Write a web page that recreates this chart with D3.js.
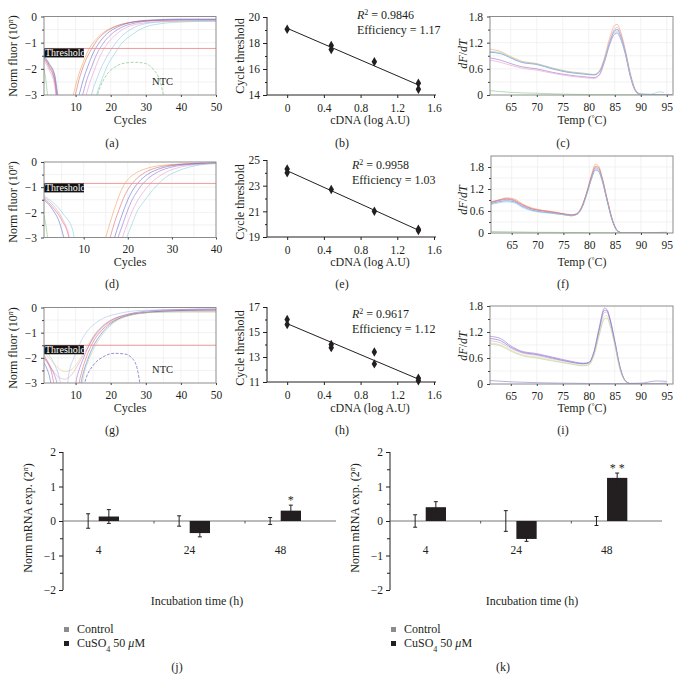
<!DOCTYPE html>
<html>
<head>
<meta charset="utf-8">
<script src="https://cdn.jsdelivr.net/npm/d3@7"></script>
<style>
  body { margin: 0; background: #fff; }
  text { font-family: "Liberation Serif", "Times New Roman", serif; fill: #231f20; }
</style>
</head>
<body>
<svg id="fig" width="683" height="678"></svg>
<script>
// ---------- data ----------
// amplification curves, [cycle, log10 norm fluor]; values below -3 are clipped off
const ampA = [
  { color: "#f2a35e", pts: [[1,-1.6],[2.5,-1.9],[4,-2.4],[5,-3.3],[8.5,-3.3],[9.3,-3.0],[10.5,-2.4],[12,-1.8],[14,-1.2],[16,-0.85],[18,-0.6],[20,-0.45],[23,-0.3],[27,-0.2],[33,-0.16],[40,-0.15],[50,-0.15]] },
  { color: "#e26a6a", pts: [[1,-1.55],[2.5,-1.85],[4,-2.3],[5.2,-3.3],[9.2,-3.3],[9.9,-3.0],[11,-2.4],[12.5,-1.8],[14.5,-1.25],[16.5,-0.85],[19,-0.55],[22,-0.35],[26,-0.22],[32,-0.15],[40,-0.12],[50,-0.12]] },
  { color: "#5f72d2", pts: [[1,-1.5],[2.5,-1.8],[4,-2.2],[5.5,-3.3],[10.3,-3.3],[11,-3.0],[12,-2.5],[13.5,-1.9],[15,-1.4],[17,-0.95],[19,-0.65],[22,-0.4],[26,-0.22],[32,-0.13],[40,-0.1],[50,-0.1]] },
  { color: "#9b6fca", pts: [[1,-1.6],[2.5,-1.95],[4,-2.45],[5,-3.3],[11.3,-3.3],[12,-3.0],[13,-2.5],[14.5,-1.95],[16,-1.45],[18,-1.0],[20,-0.7],[23,-0.42],[27,-0.25],[33,-0.15],[42,-0.12],[50,-0.12]] },
  { color: "#e79ccb", pts: [[1,-1.7],[2.5,-2.05],[4,-2.6],[4.8,-3.3],[12.3,-3.3],[13,-3.0],[14,-2.55],[15.5,-2.0],[17,-1.5],[19,-1.05],[21,-0.75],[24,-0.45],[28,-0.28],[34,-0.2],[42,-0.18],[50,-0.18]] },
  { color: "#9cc0ea", pts: [[14,-3.3],[14.5,-3.0],[16,-2.4],[17.5,-1.9],[19.5,-1.4],[21.5,-1.0],[24,-0.65],[27,-0.4],[31,-0.25],[38,-0.18],[50,-0.15]] },
  { color: "#86d2da", pts: [[15.5,-3.3],[16,-3.0],[17.5,-2.4],[19,-1.9],[21,-1.45],[23,-1.05],[26,-0.7],[29,-0.45],[34,-0.28],[42,-0.2],[50,-0.18]] },
  { color: "#82c682", pts: [[0.8,-1.9],[1.5,-2.4],[2.2,-3.3]] }
];
const ntcA = [[15.5,-3.3],[17,-2.7],[19,-2.2],[21,-1.95],[24,-1.78],[27,-1.75],[30,-1.8],[32,-2.0],[34,-2.45],[35.5,-3.3]];

const ampD = [
  { color: "#f2a35e", pts: [[15,-3.0],[16,-2.4],[17,-1.85],[18,-1.35],[19,-0.95],[20,-0.7],[22,-0.42],[24,-0.27],[27,-0.15],[30,-0.1],[35,-0.06],[40,-0.04]] },
  { color: "#e26a6a", pts: [[1,-1.45],[3,-1.8],[5,-2.3],[6.5,-2.9],[7,-3.3],[15.5,-3.3],[16,-3.0],[17,-2.4],[18,-1.9],[19,-1.45],[20,-1.1],[21,-0.85],[23,-0.52],[25,-0.32],[28,-0.17],[32,-0.09],[36,-0.05],[40,-0.03]] },
  { color: "#5f72d2", pts: [[1,-1.5],[3,-1.9],[4.5,-2.4],[5.5,-3.0],[6,-3.3],[16.5,-3.3],[17,-3.0],[18,-2.45],[19,-1.95],[20,-1.5],[21,-1.15],[22,-0.9],[24,-0.55],[26,-0.35],[29,-0.18],[33,-0.09],[40,-0.04]] },
  { color: "#9b6fca", pts: [[17.3,-3.3],[17.8,-3.0],[18.8,-2.5],[19.8,-2.0],[21,-1.5],[22,-1.2],[23,-0.95],[25,-0.6],[27,-0.38],[30,-0.2],[34,-0.1],[40,-0.05]] },
  { color: "#e79ccb", pts: [[1,-1.4],[3,-1.7],[5,-2.2],[6.5,-2.8],[7.2,-3.3],[18.3,-3.3],[18.8,-3.0],[19.8,-2.5],[21,-1.95],[22,-1.6],[23.5,-1.2],[25,-0.88],[27,-0.58],[29,-0.38],[32,-0.2],[36,-0.1],[40,-0.06]] },
  { color: "#86d2da", pts: [[1,-1.35],[3,-1.6],[5.5,-2.1],[7.5,-2.7],[8.3,-3.3],[19.3,-3.3],[19.8,-3.0],[21,-2.45],[22,-2.0],[23.5,-1.6],[25,-1.25],[26.5,-0.95],[28.5,-0.62],[31,-0.38],[34,-0.2],[37,-0.1],[40,-0.06]] },
  { color: "#82c682", pts: [[0.8,-2.0],[1.5,-2.6],[2,-3.3]] }
];

const ampG = [
  { color: "#e6d48a", pts: [[1,-1.75],[3,-2.1],[5,-2.4],[7,-2.55],[9,-2.45],[11,-2.1],[13,-1.6],[15,-1.15],[17,-0.8],[20,-0.5],[24,-0.3],[30,-0.2],[40,-0.17],[50,-0.17]] },
  { color: "#e9a2c4", pts: [[1,-2.0],[3,-2.4],[5,-2.75],[7,-2.85],[9,-2.65],[11,-2.2],[13,-1.7],[15,-1.25],[17,-0.9],[20,-0.55],[24,-0.32],[30,-0.2],[40,-0.15],[50,-0.15]] },
  { color: "#a9c2ea", pts: [[1,-1.65],[3,-2.0],[5,-2.6],[6.5,-3.3],[7.5,-3.3],[8,-2.7],[9.5,-2.0],[11,-1.5],[13,-1.0],[15,-0.7],[18,-0.42],[22,-0.25],[28,-0.12],[40,-0.08],[50,-0.06]] },
  { color: "#9b6fca", pts: [[1,-1.9],[3,-2.4],[4.5,-2.9],[5.2,-3.3],[9.5,-3.3],[10.5,-2.7],[12,-2.1],[13.5,-1.6],[15,-1.2],[17,-0.85],[20,-0.52],[24,-0.3],[30,-0.15],[40,-0.08],[50,-0.06]] },
  { color: "#e26a6a", pts: [[1,-2.0],[3,-2.5],[4.5,-3.3],[10.5,-3.3],[11.3,-2.8],[12.5,-2.2],[14,-1.65],[15.5,-1.25],[17.5,-0.9],[20,-0.6],[24,-0.35],[30,-0.2],[40,-0.12],[50,-0.1]] },
  { color: "#5f72d2", pts: [[1,-2.2],[2.5,-2.7],[3.5,-3.3],[11,-3.3],[12,-2.7],[13.5,-2.05],[15,-1.55],[16.5,-1.2],[18.5,-0.85],[21,-0.55],[25,-0.32],[30,-0.2],[40,-0.12],[50,-0.1]] },
  { color: "#acd9a4", pts: [[11.5,-3.3],[12.5,-2.6],[14,-2.0],[15.5,-1.55],[17,-1.2],[19,-0.85],[22,-0.5],[26,-0.3],[32,-0.2],[40,-0.18],[50,-0.18]] }
];
const ntcG = [[12,-3.3],[13,-2.8],[15,-2.3],[18,-1.95],[21,-1.82],[24,-1.85],[26,-2.0],[27.5,-2.4],[28.6,-3.3]];

// standard curves, [log cDNA, Ct]
const stdB = [[0,19.05],[0.48,17.8],[0.48,17.5],[0.95,16.55],[1.43,14.9],[1.43,14.45]];
const stdE = [[0,24.3],[0,24.0],[0.48,22.7],[0.95,21.0],[1.43,19.6],[1.43,19.5]];
const stdH = [[0,16.0],[0,15.6],[0.48,14.0],[0.48,13.75],[0.95,13.4],[0.95,12.45],[1.43,11.3],[1.43,11.1]];

// melt curves, [temp, dF/dT]
const meltC = [
  { color: "#f2a35e", pts: [[61,1.05],[63,1.0],[65,0.88],[67,0.78],[70,0.72],[73,0.62],[76,0.54],[79,0.5],[81,0.47],[82,0.55],[83,0.85],[84,1.3],[85,1.6],[85.5,1.62],[86,1.5],[87,1.05],[88,0.5],[89,0.12],[90,0.02],[92,0],[96,0]] },
  { color: "#5f72d2", pts: [[61,0.98],[63,0.95],[65,0.85],[67,0.75],[70,0.7],[73,0.6],[76,0.52],[79,0.48],[81,0.46],[82,0.52],[83,0.8],[84,1.2],[85,1.48],[85.5,1.5],[86,1.4],[87,1.0],[88,0.45],[89,0.1],[90,0.02],[96,0]] },
  { color: "#9b6fca", pts: [[61,0.85],[63,0.8],[65,0.72],[67,0.65],[70,0.6],[73,0.52],[76,0.46],[79,0.42],[81,0.4],[82,0.46],[83,0.75],[84,1.15],[85,1.4],[85.5,1.42],[86,1.32],[87,0.95],[88,0.42],[89,0.08],[90,0],[96,0]] },
  { color: "#e79ccb", pts: [[61,0.8],[63,0.75],[65,0.68],[67,0.62],[70,0.57],[73,0.5],[76,0.44],[79,0.4],[81,0.38],[82,0.45],[83,0.78],[84,1.22],[85,1.52],[85.5,1.55],[86,1.45],[87,1.02],[88,0.46],[89,0.1],[90,0],[96,0]] },
  { color: "#86d2da", pts: [[61,1.0],[63,0.97],[65,0.86],[67,0.76],[70,0.71],[73,0.61],[76,0.53],[79,0.49],[81,0.47],[82,0.53],[83,0.8],[84,1.18],[85,1.44],[85.5,1.45],[86,1.36],[87,0.98],[88,0.44],[89,0.1],[90,0.02],[92,0.02],[93.5,0.07],[94.5,0.06]] },
  { color: "#82c682", pts: [[61,0.1],[65,0.06],[70,0.04],[75,0.02],[80,0.01],[96,0]] }
];
const meltF = [
  { color: "#f2a35e", pts: [[61,0.85],[62.5,0.9],[64,0.96],[65.5,0.93],[67,0.8],[69,0.68],[71,0.62],[73,0.58],[75,0.53],[76.5,0.5],[77.5,0.52],[78.5,0.7],[79.5,1.1],[80.5,1.62],[81.2,1.88],[81.8,1.83],[82.5,1.52],[83.5,0.9],[84.5,0.35],[85.5,0.06],[86.5,0],[95,0]] },
  { color: "#5f72d2", pts: [[61,0.8],[62.5,0.85],[64,0.88],[65.5,0.85],[67,0.73],[69,0.62],[71,0.57],[73,0.54],[75,0.5],[76.5,0.47],[77.5,0.5],[78.5,0.66],[79.5,1.05],[80.5,1.5],[81.2,1.72],[81.8,1.68],[82.5,1.42],[83.5,0.85],[84.5,0.32],[85.5,0.05],[86.5,0],[95,0]] },
  { color: "#9b6fca", pts: [[61,0.83],[62.5,0.88],[64,0.92],[65.5,0.88],[67,0.76],[69,0.65],[71,0.6],[73,0.56],[75,0.52],[76.5,0.49],[77.5,0.51],[78.5,0.68],[79.5,1.08],[80.5,1.55],[81.2,1.78],[81.8,1.75],[82.5,1.48],[83.5,0.88],[84.5,0.34],[85.5,0.05],[86.5,0],[95,0.02]] },
  { color: "#e26a6a", pts: [[61,0.84],[62.5,0.9],[64,0.94],[65.5,0.9],[67,0.78],[69,0.66],[71,0.61],[73,0.57],[75,0.52],[76.5,0.49],[77.5,0.52],[78.5,0.7],[79.5,1.1],[80.5,1.58],[81.2,1.82],[81.8,1.79],[82.5,1.5],[83.5,0.9],[84.5,0.35],[85.5,0.06],[86.5,0],[95,0]] },
  { color: "#86d2da", pts: [[61,0.78],[62.5,0.82],[64,0.85],[65.5,0.82],[67,0.7],[69,0.6],[71,0.56],[73,0.53],[75,0.5],[76.5,0.47],[77.5,0.5],[78.5,0.66],[79.5,1.04],[80.5,1.52],[81.2,1.75],[81.8,1.72],[82.5,1.45],[83.5,0.86],[84.5,0.33],[85.5,0.05],[86.5,0],[95,0]] },
  { color: "#82c682", pts: [[61,0.04],[70,0.02],[80,0.01],[95,0]] }
];
const meltI = [
  { color: "#9b6fca", pts: [[61,1.1],[63,1.05],[65,0.88],[67,0.76],[70,0.7],[73,0.62],[76,0.54],[79,0.48],[80,0.5],[81,0.75],[82,1.3],[83,1.75],[83.5,1.72],[84,1.55],[85,1.0],[86,0.4],[87,0.08],[88,0.01],[90,0],[95,0.02]] },
  { color: "#e6d48a", pts: [[61,0.95],[63,0.9],[65,0.78],[67,0.68],[70,0.62],[73,0.55],[76,0.48],[79,0.43],[80,0.45],[81,0.68],[82,1.15],[83,1.55],[83.5,1.58],[84,1.42],[85,0.92],[86,0.35],[87,0.07],[88,0.01],[95,0]] },
  { color: "#e79ccb", pts: [[61,1.0],[63,0.95],[65,0.82],[67,0.72],[70,0.66],[73,0.58],[76,0.51],[79,0.46],[80,0.48],[81,0.72],[82,1.22],[83,1.65],[83.5,1.66],[84,1.5],[85,0.96],[86,0.38],[87,0.08],[88,0.01],[95,0]] },
  { color: "#5f72d2", pts: [[61,1.05],[63,1.0],[65,0.85],[67,0.74],[70,0.68],[73,0.6],[76,0.52],[79,0.47],[80,0.49],[81,0.73],[82,1.26],[83,1.7],[83.5,1.69],[84,1.52],[85,0.98],[86,0.39],[87,0.08],[88,0.01],[95,0]] },
  { color: "#acd9a4", pts: [[61,0.92],[63,0.88],[65,0.76],[67,0.66],[70,0.6],[73,0.53],[76,0.47],[79,0.42],[80,0.44],[81,0.66],[82,1.12],[83,1.5],[83.5,1.52],[84,1.38],[85,0.9],[86,0.34],[87,0.07],[88,0.01],[95,0]] },
  { color: "#8f78c8", pts: [[61,0.08],[65,0.05],[75,0.02],[85,0.01],[90,0.02],[93,0.07],[95,0.06]] }
];

// relative expression bars
const groups = ["4", "24", "48"];
const jControl = [0, 0, 0];
const jControlErr = [0.21, 0.15, 0.1];
const jCuso4 = [0.13, -0.35, 0.3];
const jCuso4Err = [0.2, 0.11, 0.16];
const jSig = ["", "", "*"];
const kControl = [0, 0, 0];
const kControlErr = [0.18, 0.3, 0.13];
const kCuso4 = [0.4, -0.52, 1.25];
const kCuso4Err = [0.16, 0.07, 0.14];
const kSig = ["", "", "**"];

// ---------- drawing ----------
const svg = d3.select("#fig");
const TICK_FS = 11.5;
const LABEL_FS = 12;
const minus = d => (d < 0 ? "\u2212" + Math.abs(d) : String(d));

function rotLabel(x, y, parts) {
  const t = svg.append("text")
    .attr("transform", `translate(${x},${y}) rotate(-90)`)
    .attr("text-anchor", "middle")
    .attr("font-size", LABEL_FS);
  parts.forEach(p => {
    const s = t.append("tspan").text(p.t);
    if (p.sup) s.attr("baseline-shift", "super").attr("font-size", 8);
    if (p.it) s.attr("font-style", "italic");
  });
  return t;
}

function plainText(x, y, str, size, anchor) {
  return svg.append("text").attr("x", x).attr("y", y)
    .attr("font-size", size || LABEL_FS)
    .attr("text-anchor", anchor || "middle").text(str);
}

let clipN = 0;
function boxPanel(o) {
  const x = d3.scaleLinear().domain(o.xDomain).range([o.left, o.right]);
  const y = d3.scaleLinear().domain(o.yDomain).range([o.bottom, o.top]);
  const g = svg.append("g");
  const id = "clip" + (clipN++);
  svg.append("clipPath").attr("id", id).append("rect")
    .attr("x", o.left).attr("y", o.top)
    .attr("width", o.right - o.left).attr("height", o.bottom - o.top);

  // light grid
  g.append("g").selectAll("line").data(o.xGrid).join("line")
    .attr("x1", d => x(d)).attr("x2", d => x(d))
    .attr("y1", o.top).attr("y2", o.bottom)
    .attr("stroke", "#ededed").attr("stroke-width", 0.7);
  g.append("g").selectAll("line").data(o.yGrid).join("line")
    .attr("y1", d => y(d)).attr("y2", d => y(d))
    .attr("x1", o.left).attr("x2", o.right)
    .attr("stroke", "#ededed").attr("stroke-width", 0.7);

  const line = d3.line().x(d => x(d[0])).y(d => y(d[1])).curve(d3.curveMonotoneX);
  const cg = g.append("g").attr("clip-path", `url(#${id})`);
  o.curves.forEach(c => {
    cg.append("path").attr("d", line(c.pts)).attr("fill", "none")
      .attr("stroke", c.color).attr("stroke-width", 0.75).attr("stroke-opacity", 0.8);
  });
  if (o.ntc) {
    cg.append("path").attr("d", line(o.ntc.pts)).attr("fill", "none")
      .attr("stroke", o.ntc.color).attr("stroke-width", 0.8)
      .attr("stroke-dasharray", "3,1.5");
  }
  if (o.threshold !== undefined) {
    const ty = y(o.threshold);
    g.append("line").attr("x1", o.left).attr("x2", o.right)
      .attr("y1", ty).attr("y2", ty).attr("stroke", "#ef8f8f").attr("stroke-width", 0.9);
    g.append("rect").attr("x", o.left).attr("y", ty).attr("width", 40).attr("height", 9)
      .attr("fill", "#111");
    g.append("text").attr("x", o.left + 1).attr("y", ty + 8)
      .attr("font-size", 10).style("fill", "#fff").text("Threshold");
  }
  if (o.ntcLabel) plainText(x(o.ntcLabel[0]), y(o.ntcLabel[1]), "NTC", 10.5, "start");

  g.append("rect").attr("x", o.left).attr("y", o.top)
    .attr("width", o.right - o.left).attr("height", o.bottom - o.top)
    .attr("fill", "none").attr("stroke", "#8c8c8c").attr("stroke-width", 1);

  // axes
  const ya = g.append("g").attr("transform", `translate(${o.left},0)`)
    .call(d3.axisLeft(y).tickValues(o.yTicks).tickSize(3).tickFormat(o.yFormat || minus));
  const ym = g.append("g").attr("transform", `translate(${o.left},0)`)
    .call(d3.axisLeft(y).tickValues(o.yMinor).tickSize(2).tickFormat(""));
  const xa = g.append("g").attr("transform", `translate(0,${o.bottom})`)
    .call(d3.axisBottom(x).tickValues(o.xTicks).tickSize(2).tickFormat(d => d));
  [ya, ym, xa].forEach(a => {
    a.attr("font-family", null);
    a.select(".domain").remove();
    a.selectAll("line").attr("stroke", "#444");
    a.selectAll("text").attr("font-size", TICK_FS).style("fill", "#231f20");
  });
  ya.selectAll("text").attr("dx", "-1");
  xa.selectAll("text").attr("dy", "0.95em");
}

function stdPanel(o) {
  const x = d3.scaleLinear().domain([-0.22, 1.6]).range([267, 434]);
  const y = d3.scaleLinear().domain(o.yDomain).range([o.bottom, o.top]);
  const g = svg.append("g");
  const ya = g.append("g").attr("transform", "translate(267,0)")
    .call(d3.axisLeft(y).tickValues(o.yTicks).tickSize(4).tickFormat(d => d));
  const ym = g.append("g").attr("transform", "translate(267,0)")
    .call(d3.axisLeft(y).tickValues(o.yMinor).tickSize(2).tickFormat(""));
  ym.select(".domain").remove();
  const xa = g.append("g").attr("transform", `translate(0,${o.bottom})`)
    .call(d3.axisBottom(x).tickValues([0, 0.4, 0.8, 1.2, 1.6]).tickSize(3)
      .tickFormat(d => (d === 0 ? "0" : d3.format(".1f")(d))));
  [ya, ym, xa].forEach(a => {
    a.attr("font-family", null);
    a.selectAll("path,line").attr("stroke", "#231f20");
    a.selectAll("text").attr("font-size", TICK_FS).style("fill", "#231f20");
  });
  ya.select(".domain").attr("d", `M-0,${o.top}V${o.bottom}`);
  xa.select(".domain").attr("d", `M267,0H436`);
  xa.selectAll("text").attr("dy", "0.95em");

  // least squares fit through the measured points
  const mx = d3.mean(o.pts, d => d[0]), my = d3.mean(o.pts, d => d[1]);
  const slope = d3.sum(o.pts, d => (d[0] - mx) * (d[1] - my)) / d3.sum(o.pts, d => (d[0] - mx) ** 2);
  const x0 = d3.min(o.pts, d => d[0]), x1 = d3.max(o.pts, d => d[0]);
  g.append("line")
    .attr("x1", x(x0)).attr("y1", y(my + slope * (x0 - mx)))
    .attr("x2", x(x1)).attr("y2", y(my + slope * (x1 - mx)))
    .attr("stroke", "#231f20").attr("stroke-width", 1);
  g.selectAll("path.pt").data(o.pts).join("path").attr("class", "pt")
    .attr("transform", d => `translate(${x(d[0])},${y(d[1])})`)
    .attr("d", d3.symbol(d3.symbolDiamond, 26))
    .attr("fill", "#231f20");

  const r = g.append("text").attr("x", o.textX).attr("y", o.textY).attr("font-size", LABEL_FS);
  r.append("tspan").attr("font-style", "italic").text("R");
  r.append("tspan").attr("baseline-shift", "super").attr("font-size", 8).text("2");
  r.append("tspan").text(" = " + o.r2);
  g.append("text").attr("x", o.textX).attr("y", o.textY + 14.5).attr("font-size", LABEL_FS)
    .text("Efficiency = " + o.eff);
}

function barPanel(o) {
  const x0 = d3.scaleBand().domain(groups).range([o.left, o.right]);
  const x1 = d3.scaleBand().domain(["Control", "CuSO4"]).range([15, 56]).paddingInner(0.02);
  const y = d3.scaleLinear().domain([-2, 2]).range([590, 452]);
  const g = svg.append("g");

  const ya = g.append("g").attr("transform", `translate(${o.left},0)`)
    .call(d3.axisLeft(y).tickValues([-2, -1, 0, 1, 2]).tickSize(4).tickFormat(minus));
  const ym = g.append("g").attr("transform", `translate(${o.left},0)`)
    .call(d3.axisLeft(y).tickValues([-1.5, -0.5, 0.5, 1.5]).tickSize(3).tickFormat(""));
  ym.select(".domain").remove();
  [ya, ym].forEach(a => {
    a.attr("font-family", null);
    a.selectAll("path,line").attr("stroke", "#231f20");
    a.selectAll("text").attr("font-size", TICK_FS).style("fill", "#231f20");
  });
  ya.select(".domain").attr("d", `M0,452V590`);

  // zero line with group boundary marks
  g.append("line").attr("x1", o.left).attr("x2", o.right)
    .attr("y1", y(0)).attr("y2", y(0)).attr("stroke", "#777").attr("stroke-width", 1);
  g.selectAll("line.sep").data(groups.slice(1)).join("line").attr("class", "sep")
    .attr("x1", d => x0(d)).attr("x2", d => x0(d))
    .attr("y1", y(0)).attr("y2", y(0) + 2.5).attr("stroke", "#555");

  const rows = groups.map((gname, i) => [
    { g: gname, s: "Control", v: o.control[i], e: o.controlErr[i], sig: "" },
    { g: gname, s: "CuSO4", v: o.cuso4[i], e: o.cuso4Err[i], sig: o.sig[i] }
  ]).flat();

  const bx = d => x0(d.g) + x1(d.s);
  g.selectAll("rect.bar").data(rows).join("rect").attr("class", "bar")
    .attr("x", bx).attr("width", x1.bandwidth())
    .attr("y", d => y(Math.max(0, d.v)))
    .attr("height", d => Math.abs(y(d.v) - y(0)))
    .attr("fill", d => (d.s === "Control" ? "#8c8c8c" : "#231f20"));

  const eb = g.selectAll("g.err").data(rows).join("g").attr("class", "err")
    .attr("transform", d => `translate(${bx(d) + x1.bandwidth() / 2},0)`);
  eb.append("line").attr("y1", d => y(d.v - d.e)).attr("y2", d => y(d.v + d.e))
    .attr("stroke", "#231f20").attr("stroke-width", 1);
  eb.append("line").attr("x1", -2).attr("x2", 2)
    .attr("y1", d => y(d.v + d.e)).attr("y2", d => y(d.v + d.e)).attr("stroke", "#231f20");
  eb.append("line").attr("x1", -2).attr("x2", 2)
    .attr("y1", d => y(d.v - d.e)).attr("y2", d => y(d.v - d.e)).attr("stroke", "#231f20");
  eb.filter(d => d.sig).append("text")
    .attr("y", d => y(d.v + d.e) - 1).attr("text-anchor", "middle")
    .attr("font-size", 12).text(d => d.sig.split("").join(" "));

  g.selectAll("text.cat").data(groups).join("text").attr("class", "cat")
    .attr("x", d => x0(d) + 35.5).attr("y", y(0) + 33)
    .attr("text-anchor", "middle").attr("font-size", TICK_FS).text(d => d);

  plainText(o.titleX, 605, "Incubation time (h)");
  rotLabel(o.left - 31, 518, [{ t: "Norm mRNA exp. (2" }, { t: "n", sup: true, it: true }, { t: ")" }]);

  // legend
  const lg = g.append("g").attr("transform", `translate(${o.left + 1},0)`);
  lg.append("rect").attr("x", 0).attr("y", 627).attr("width", 5).attr("height", 5).attr("fill", "#8c8c8c");
  lg.append("text").attr("x", 13).attr("y", 633).attr("font-size", LABEL_FS).text("Control");
  lg.append("rect").attr("x", 0).attr("y", 641).attr("width", 5).attr("height", 5).attr("fill", "#231f20");
  const t2 = lg.append("text").attr("x", 13).attr("y", 647).attr("font-size", LABEL_FS);
  t2.append("tspan").text("CuSO");
  t2.append("tspan").attr("baseline-shift", "sub").attr("font-size", 8).text("4");
  t2.append("tspan").text(" 50 ");
  t2.append("tspan").attr("font-style", "italic").text("\u03bc");
  t2.append("tspan").text("M");

  plainText(o.letterX, 671, o.letter);
}

// ---- row 1 ----
boxPanel({
  left: 44, right: 216, top: 16.5, bottom: 95, xDomain: [1, 50], yDomain: [-3, 0],
  xGrid: [5, 10, 15, 20, 25, 30, 35, 40, 45], yGrid: [-2.5, -2, -1.5, -1, -0.5],
  xTicks: [10, 20, 30, 40, 50], yTicks: [-3, -2, -1, 0], yMinor: [-2.5, -1.5, -0.5],
  curves: ampA, ntc: { color: "#8fd08f", pts: ntcA }, threshold: -1.22, ntcLabel: [31.8, -2.62]
});
boxPanel({
  left: 490, right: 673, top: 16.5, bottom: 95, xDomain: [61, 96.2], yDomain: [0, 1.8],
  xGrid: [65, 70, 75, 80, 85, 90, 95], yGrid: [0.3, 0.6, 0.9, 1.2, 1.5],
  xTicks: [65, 70, 75, 80, 85, 90, 95], yTicks: [0, 0.6, 1.2, 1.8], yMinor: [0.3, 0.9, 1.5],
  yFormat: d => d, curves: meltC
});
stdPanel({ top: 17, bottom: 95, yDomain: [14, 20], yTicks: [14, 16, 18, 20], yMinor: [15, 17, 19],
  pts: stdB, r2: "0.9846", eff: "1.17", textX: 357, textY: 19 });

// ---- row 2 ----
boxPanel({
  left: 44, right: 216, top: 162, bottom: 237.5, xDomain: [1, 40], yDomain: [-3, 0],
  xGrid: [5, 10, 15, 20, 25, 30, 35], yGrid: [-2.5, -2, -1.5, -1, -0.5],
  xTicks: [10, 20, 30, 40], yTicks: [-3, -2, -1, 0], yMinor: [-2.5, -1.5, -0.5],
  curves: ampD, threshold: -0.85
});
boxPanel({
  left: 491, right: 673, top: 156, bottom: 233, xDomain: [61, 96.2], yDomain: [0, 2.1],
  xGrid: [65, 70, 75, 80, 85, 90, 95], yGrid: [0.3, 0.6, 0.9, 1.2, 1.5, 1.8],
  xTicks: [65, 70, 75, 80, 85, 90, 95], yTicks: [0, 0.6, 1.2, 1.8], yMinor: [0.3, 0.9, 1.5],
  yFormat: d => d, curves: meltF
});
stdPanel({ top: 160, bottom: 237, yDomain: [19, 25], yTicks: [19, 21, 23, 25], yMinor: [20, 22, 24],
  pts: stdE, r2: "0.9958", eff: "1.03", textX: 352, textY: 169 });

// ---- row 3 ----
boxPanel({
  left: 44, right: 216, top: 307.5, bottom: 383, xDomain: [1, 50], yDomain: [-3, 0],
  xGrid: [5, 10, 15, 20, 25, 30, 35, 40, 45], yGrid: [-2.5, -2, -1.5, -1, -0.5],
  xTicks: [10, 20, 30, 40, 50], yTicks: [-3, -2, -1, 0], yMinor: [-2.5, -1.5, -0.5],
  curves: ampG, ntc: { color: "#7f72cc", pts: ntcG }, threshold: -1.5, ntcLabel: [31.8, -2.6]
});
boxPanel({
  left: 490, right: 673, top: 306, bottom: 384, xDomain: [61, 96.2], yDomain: [0, 1.8],
  xGrid: [65, 70, 75, 80, 85, 90, 95], yGrid: [0.3, 0.6, 0.9, 1.2, 1.5],
  xTicks: [65, 70, 75, 80, 85, 90, 95], yTicks: [0, 0.6, 1.2, 1.8], yMinor: [0.3, 0.9, 1.5],
  yFormat: d => d, curves: meltI
});
stdPanel({ top: 307, bottom: 382, yDomain: [11, 17], yTicks: [11, 13, 15, 17], yMinor: [12, 14, 16],
  pts: stdH, r2: "0.9617", eff: "1.12", textX: 352, textY: 318 });

// titles and panel letters for the top three rows
[[124, 147, 56], [266, 288, 202], [412, 434, 348]].forEach((r, i) => {
  plainText(130, r[0], "Cycles");
  plainText(370, r[0], "cDNA (log A.U)");
  const tt = svg.append("text").attr("x", 582).attr("y", r[0]).attr("font-size", LABEL_FS).attr("text-anchor", "middle");
  tt.append("tspan").text("Temp (");
  tt.append("tspan").attr("baseline-shift", "super").attr("font-size", 7).text("\u00b0");
  tt.append("tspan").text("C)");
  plainText(112, r[1], ["(a)", "(d)", "(g)"][i]);
  plainText(342, r[1], ["(b)", "(e)", "(h)"][i]);
  plainText(563, r[1], ["(c)", "(f)", "(i)"][i]);
  rotLabel(17, r[2], [{ t: "Norm fluor (10" }, { t: "n", sup: true, it: true }, { t: ")" }]);
  rotLabel(244, r[2], [{ t: "Cycle threshold" }]);
  rotLabel(467, r[2] - 2, [{ t: "dF", it: true }, { t: "/" }, { t: "dT", it: true }]);
});

// ---- row 4 ----
barPanel({ left: 63, right: 336, control: jControl, controlErr: jControlErr, cuso4: jCuso4,
  cuso4Err: jCuso4Err, sig: jSig, titleX: 197, letter: "(j)", letterX: 177 });
barPanel({ left: 390, right: 662, control: kControl, controlErr: kControlErr, cuso4: kCuso4,
  cuso4Err: kCuso4Err, sig: kSig, titleX: 532, letter: "(k)", letterX: 503 });
</script>
</body>
</html>
